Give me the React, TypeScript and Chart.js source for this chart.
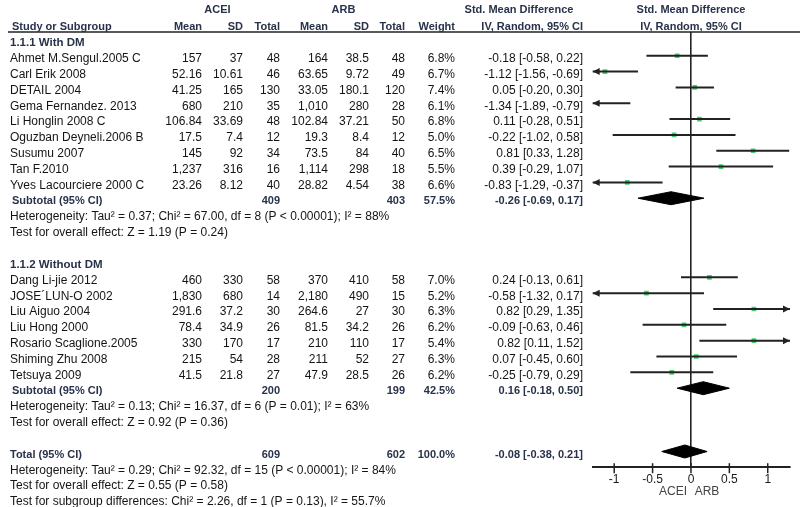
import { useEffect, useRef } from 'react';
import { Chart, registerables } from 'chart.js';

Chart.register(...registerables);

const FONT = '"Liberation Sans", Arial, Helvetica, sans-serif';

// ---------- data ----------
const subgroupNames = ['1.1.1 With DM', '1.1.2 Without DM'];

const group1Studies = [
  'Ahmet M.Sengul.2005 C',
  'Carl Erik 2008',
  'DETAIL 2004',
  'Gema Fernandez. 2013',
  'Li Honglin 2008 C',
  'Oguzban Deyneli.2006 B',
  'Susumu 2007',
  'Tan F.2010',
  'Yves Lacourciere 2000 C',
];
const group1AceiMean = [157, 52.16, 41.25, 680, 106.84, 17.5, 145, 1237, 23.26];
const group1AceiSD = [37, 10.61, 165, 210, 33.69, 7.4, 92, 316, 8.12];
const group1AceiTotal = [48, 46, 130, 35, 48, 12, 34, 16, 40];
const group1ArbMean = [164, 63.65, 33.05, 1010, 102.84, 19.3, 73.5, 1114, 28.82];
const group1ArbSD = [38.5, 9.72, 180.1, 280, 37.21, 8.4, 84, 298, 4.54];
const group1ArbTotal = [48, 49, 120, 28, 50, 12, 40, 18, 38];
const group1Weight = [6.8, 6.7, 7.4, 6.1, 6.8, 5.0, 6.5, 5.5, 6.6];
const group1Smd = [-0.18, -1.12, 0.05, -1.34, 0.11, -0.22, 0.81, 0.39, -0.83];
const group1Low = [-0.58, -1.56, -0.2, -1.89, -0.28, -1.02, 0.33, -0.29, -1.29];
const group1High = [0.22, -0.69, 0.3, -0.79, 0.51, 0.58, 1.28, 1.07, -0.37];

const group2Studies = [
  'Dang Li-jie 2012',
  'JOSE\u00B4LUN-O 2002',
  'Liu Aiguo 2004',
  'Liu Hong 2000',
  'Rosario Scaglione.2005',
  'Shiming Zhu 2008',
  'Tetsuya 2009',
];
const group2AceiMean = [460, 1830, 291.6, 78.4, 330, 215, 41.5];
const group2AceiSD = [330, 680, 37.2, 34.9, 170, 54, 21.8];
const group2AceiTotal = [58, 14, 30, 26, 17, 28, 27];
const group2ArbMean = [370, 2180, 264.6, 81.5, 210, 211, 47.9];
const group2ArbSD = [410, 490, 27, 34.2, 110, 52, 28.5];
const group2ArbTotal = [58, 15, 30, 26, 17, 27, 26];
const group2Weight = [7.0, 5.2, 6.3, 6.2, 5.4, 6.3, 6.2];
const group2Smd = [0.24, -0.58, 0.82, -0.09, 0.82, 0.07, -0.25];
const group2Low = [-0.13, -1.32, 0.29, -0.63, 0.11, -0.45, -0.79];
const group2High = [0.61, 0.17, 1.35, 0.46, 1.52, 0.6, 0.29];

const subtotalAceiTotal = [409, 200];
const subtotalArbTotal = [403, 199];
const subtotalWeight = [57.5, 42.5];
const subtotalSmd = [-0.26, 0.16];
const subtotalLow = [-0.69, -0.18];
const subtotalHigh = [0.17, 0.5];
const subgroupHeterogeneity = [
  'Heterogeneity: Tau\u00B2 = 0.37; Chi\u00B2 = 67.00, df = 8 (P < 0.00001); I\u00B2 = 88%',
  'Heterogeneity: Tau\u00B2 = 0.13; Chi\u00B2 = 16.37, df = 6 (P = 0.01); I\u00B2 = 63%',
];
const subgroupOverall = [
  'Test for overall effect: Z = 1.19 (P = 0.24)',
  'Test for overall effect: Z = 0.92 (P = 0.36)',
];

const totalAceiN = 609;
const totalArbN = 602;
const totalWeight = 100.0;
const totalSmd = -0.08;
const totalLow = -0.38;
const totalHigh = 0.21;
const totalNotes = [
  'Heterogeneity: Tau\u00B2 = 0.29; Chi\u00B2 = 92.32, df = 15 (P < 0.00001); I\u00B2 = 84%',
  'Test for overall effect: Z = 0.55 (P = 0.58)',
  'Test for subgroup differences: Chi\u00B2 = 2.26, df = 1 (P = 0.13), I\u00B2 = 55.7%',
];

const xTicks = [-1, -0.5, 0, 0.5, 1];
const xMin = -1.28;
const xMax = 1.29;
const favourLabels = ['ACEI', 'ARB'];

// ---------- row model ----------
type Row =
  | { kind: 'heading'; r: number; text: string }
  | {
      kind: 'study';
      r: number;
      name: string;
      am: number; asd: number; an: number;
      bm: number; bsd: number; bn: number;
      w: number; smd: number; lo: number; hi: number;
    }
  | { kind: 'summary'; r: number; name: string; an: number; bn: number; w: number; smd: number; lo: number; hi: number }
  | { kind: 'note'; r: number; text: string };

const groups = [
  { name: subgroupNames[0], studies: group1Studies, am: group1AceiMean, asd: group1AceiSD, an: group1AceiTotal, bm: group1ArbMean, bsd: group1ArbSD, bn: group1ArbTotal, w: group1Weight, smd: group1Smd, lo: group1Low, hi: group1High },
  { name: subgroupNames[1], studies: group2Studies, am: group2AceiMean, asd: group2AceiSD, an: group2AceiTotal, bm: group2ArbMean, bsd: group2ArbSD, bn: group2ArbTotal, w: group2Weight, smd: group2Smd, lo: group2Low, hi: group2High },
];

const rows: Row[] = [];
let rr = 0;
groups.forEach((g, gi) => {
  rows.push({ kind: 'heading', r: rr++, text: g.name });
  g.studies.forEach((s, i) => {
    rows.push({ kind: 'study', r: rr++, name: s, am: g.am[i], asd: g.asd[i], an: g.an[i], bm: g.bm[i], bsd: g.bsd[i], bn: g.bn[i], w: g.w[i], smd: g.smd[i], lo: g.lo[i], hi: g.hi[i] });
  });
  rows.push({ kind: 'summary', r: rr++, name: 'Subtotal (95% CI)', an: subtotalAceiTotal[gi], bn: subtotalArbTotal[gi], w: subtotalWeight[gi], smd: subtotalSmd[gi], lo: subtotalLow[gi], hi: subtotalHigh[gi] });
  rows.push({ kind: 'note', r: rr++, text: subgroupHeterogeneity[gi] });
  rows.push({ kind: 'note', r: rr++, text: subgroupOverall[gi] });
  rr++;
});
rows.push({ kind: 'summary', r: rr++, name: 'Total (95% CI)', an: totalAceiN, bn: totalArbN, w: totalWeight, smd: totalSmd, lo: totalLow, hi: totalHigh });
totalNotes.forEach((t) => rows.push({ kind: 'note', r: rr++, text: t }));

const fmtNum = (v: number) => v.toLocaleString('en-US', { maximumFractionDigits: 2 });
const fmtCI = (m: number, lo: number, hi: number) => `${m.toFixed(2)} [${lo.toFixed(2)}, ${hi.toFixed(2)}]`;

// ---------- layout constants ----------
const COL = { name: 10, am: 202, asd: 243, an: 280, bm: 328, bsd: 369, bn: 405, w: 455, ci: 583 };
const TEXT = '#141414';
const BOLD_TEXT = '#28324a';
const LINE = '#222222';
const DIAMOND_HALF = 0.41; // in row units

const studyRows = rows.filter((r) => r.kind === 'study') as Extract<Row, { kind: 'study' }>[];
const summaryRows = rows.filter((r) => r.kind === 'summary') as Extract<Row, { kind: 'summary' }>[];

function buildDatasets() {
  const ds: any[] = [];
  studyRows.forEach((s) => {
    ds.push({
      data: [
        { x: s.lo, y: s.r },
        { x: s.hi, y: s.r },
      ],
      showLine: true,
      borderColor: LINE,
      borderWidth: 2,
      pointRadius: 0,
      fill: false,
    });
  });
  ds.push({
    data: studyRows.map((s) => ({ x: s.smd, y: s.r })),
    showLine: false,
    pointStyle: 'rect',
    pointRadius: 3.3,
    pointBackgroundColor: '#45d070',
    pointBorderWidth: 0,
    borderWidth: 0,
  });
  summaryRows.forEach((s) => {
    ds.push({
      data: [
        { x: s.lo, y: s.r },
        { x: s.smd, y: s.r - DIAMOND_HALF },
        { x: s.hi, y: s.r },
        { x: s.smd, y: s.r + DIAMOND_HALF },
        { x: s.lo, y: s.r },
      ],
      showLine: true,
      borderColor: '#000',
      backgroundColor: '#000',
      borderWidth: 1,
      pointRadius: 0,
      tension: 0,
      fill: 'shape',
    });
  });
  return ds;
}

const forestPlugin = {
  id: 'forestText',
  afterDatasetsDraw(chart: any) {
    const ctx = chart.ctx as CanvasRenderingContext2D;
    const ys = chart.scales.y;
    const left = chart.chartArea.left;
    const right = chart.chartArea.right;
    ctx.save();
    ctx.fillStyle = LINE;
    studyRows.forEach((s) => {
      const y = ys.getPixelForValue(s.r);
      if (s.lo < xMin) {
        ctx.beginPath();
        ctx.moveTo(left, y);
        ctx.lineTo(left + 7, y - 3.5);
        ctx.lineTo(left + 7, y + 3.5);
        ctx.closePath();
        ctx.fill();
      }
      if (s.hi > xMax) {
        ctx.beginPath();
        ctx.moveTo(right, y);
        ctx.lineTo(right - 7, y - 3.5);
        ctx.lineTo(right - 7, y + 3.5);
        ctx.closePath();
        ctx.fill();
      }
    });
    ctx.restore();
  },
  afterDraw(chart: any) {
    const ctx = chart.ctx as CanvasRenderingContext2D;
    const xs = chart.scales.x;
    const ys = chart.scales.y;
    const ty = (r: number) => ys.getPixelForValue(r) + 3;
    const put = (t: string, x: number, y: number, align: CanvasTextAlign, bold = false, size = 12, color = TEXT) => {
      ctx.font = `${bold ? 'bold ' : ''}${size}px ${FONT}`;
      ctx.fillStyle = color;
      ctx.textAlign = align;
      ctx.textBaseline = 'middle';
      ctx.fillText(t, x, y);
    };
    ctx.save();

    // tick marks crossing the axis
    const axisY = chart.chartArea.bottom;
    ctx.strokeStyle = LINE;
    ctx.lineWidth = 1.5;
    xTicks.forEach((v) => {
      const px = xs.getPixelForValue(v);
      ctx.beginPath();
      ctx.moveTo(px, axisY - 3.5);
      ctx.lineTo(px, axisY + 6.5);
      ctx.stroke();
    });

    // header line
    ctx.strokeStyle = '#222';
    ctx.lineWidth = 1.6;
    ctx.beginPath();
    ctx.moveTo(8, 32);
    ctx.lineTo(800, 32);
    ctx.stroke();

    const zeroX = xs.getPixelForValue(0);
    // headers
    put('ACEI', 217.5, 10, 'center', true, 11, BOLD_TEXT);
    put('ARB', 343.5, 10, 'center', true, 11, BOLD_TEXT);
    put('Std. Mean Difference', 519, 10, 'center', true, 11, BOLD_TEXT);
    put('Std. Mean Difference', zeroX, 10, 'center', true, 11, BOLD_TEXT);
    const hy = 26.5;
    put('Study or Subgroup', 12, hy, 'left', true, 11, BOLD_TEXT);
    put('Mean', COL.am, hy, 'right', true, 11, BOLD_TEXT);
    put('SD', COL.asd, hy, 'right', true, 11, BOLD_TEXT);
    put('Total', COL.an, hy, 'right', true, 11, BOLD_TEXT);
    put('Mean', COL.bm, hy, 'right', true, 11, BOLD_TEXT);
    put('SD', COL.bsd, hy, 'right', true, 11, BOLD_TEXT);
    put('Total', COL.bn, hy, 'right', true, 11, BOLD_TEXT);
    put('Weight', COL.w, hy, 'right', true, 11, BOLD_TEXT);
    put('IV, Random, 95% CI', COL.ci, hy, 'right', true, 11, BOLD_TEXT);
    put('IV, Random, 95% CI', zeroX, hy, 'center', true, 11, BOLD_TEXT);

    rows.forEach((row) => {
      const y = ty(row.r);
      if (row.kind === 'heading') {
        put(row.text, COL.name, y, 'left', true, 11.5, BOLD_TEXT);
      } else if (row.kind === 'study') {
        put(row.name, COL.name, y, 'left');
        put(fmtNum(row.am), COL.am, y, 'right');
        put(fmtNum(row.asd), COL.asd, y, 'right');
        put(String(row.an), COL.an, y, 'right');
        put(fmtNum(row.bm), COL.bm, y, 'right');
        put(fmtNum(row.bsd), COL.bsd, y, 'right');
        put(String(row.bn), COL.bn, y, 'right');
        put(row.w.toFixed(1) + '%', COL.w, y, 'right');
        put(fmtCI(row.smd, row.lo, row.hi), COL.ci, y, 'right');
      } else if (row.kind === 'summary') {
        const x0 = row.name.startsWith('Subtotal') ? 12 : COL.name;
        put(row.name, x0, y, 'left', true, 11, BOLD_TEXT);
        put(String(row.an), COL.an, y, 'right', true, 11, BOLD_TEXT);
        put(String(row.bn), COL.bn, y, 'right', true, 11, BOLD_TEXT);
        put(row.w.toFixed(1) + '%', COL.w, y, 'right', true, 11, BOLD_TEXT);
        put(fmtCI(row.smd, row.lo, row.hi), COL.ci, y, 'right', true, 11, BOLD_TEXT);
      } else {
        put(row.text, COL.name, y, 'left');
      }
    });

    // favours labels
    put(favourLabels[0], zeroX - 18, 492, 'center', false, 12, '#444');
    put(favourLabels[1], zeroX + 16, 492, 'center', false, 12, '#444');
    ctx.restore();
  },
};

export default function App() {
  const ref = useRef<HTMLCanvasElement>(null);
  useEffect(() => {
    if (!ref.current) return;
    const chart = new Chart(ref.current, {
      type: 'scatter',
      data: { datasets: buildDatasets() },
      options: {
        animation: false,
        responsive: false,
        maintainAspectRatio: false,
        devicePixelRatio: 1,
        events: [],
        layout: { padding: { left: 592.7, right: 10, top: 32, bottom: 20.3 } },
        plugins: {
          legend: { display: false },
          tooltip: { enabled: false },
          title: { display: false },
        },
        scales: {
          x: {
            type: 'linear',
            position: 'bottom',
            min: xMin,
            max: xMax,
            afterBuildTicks: (s: any) => {
              s.ticks = xTicks.map((v) => ({ value: v }));
            },
            afterFit: (s: any) => {
              s.height = 20;
            },
            border: { display: true, color: LINE, width: 2 },
            grid: {
              drawTicks: false,
              drawOnChartArea: true,
              lineWidth: 1.6,
              color: (c: any) => (c.tick && c.tick.value === 0 ? LINE : 'rgba(0,0,0,0)'),
            },
            ticks: {
              padding: 6,
              color: '#1a1a1a',
              font: { family: FONT, size: 12 },
              callback: (v: any) => String(v),
            },
          },
          y: {
            type: 'linear',
            display: false,
            reverse: true,
            min: -0.5,
            max: 26.96,
          },
        },
      } as any,
      plugins: [forestPlugin],
    });
    return () => chart.destroy();
  }, []);
  return (
    <div style={{ position: 'fixed', left: 0, top: 0, width: 800, height: 507, background: '#fff' }}>
      <canvas ref={ref} width={800} height={507} style={{ display: 'block', width: 800, height: 507 }} />
    </div>
  );
}
